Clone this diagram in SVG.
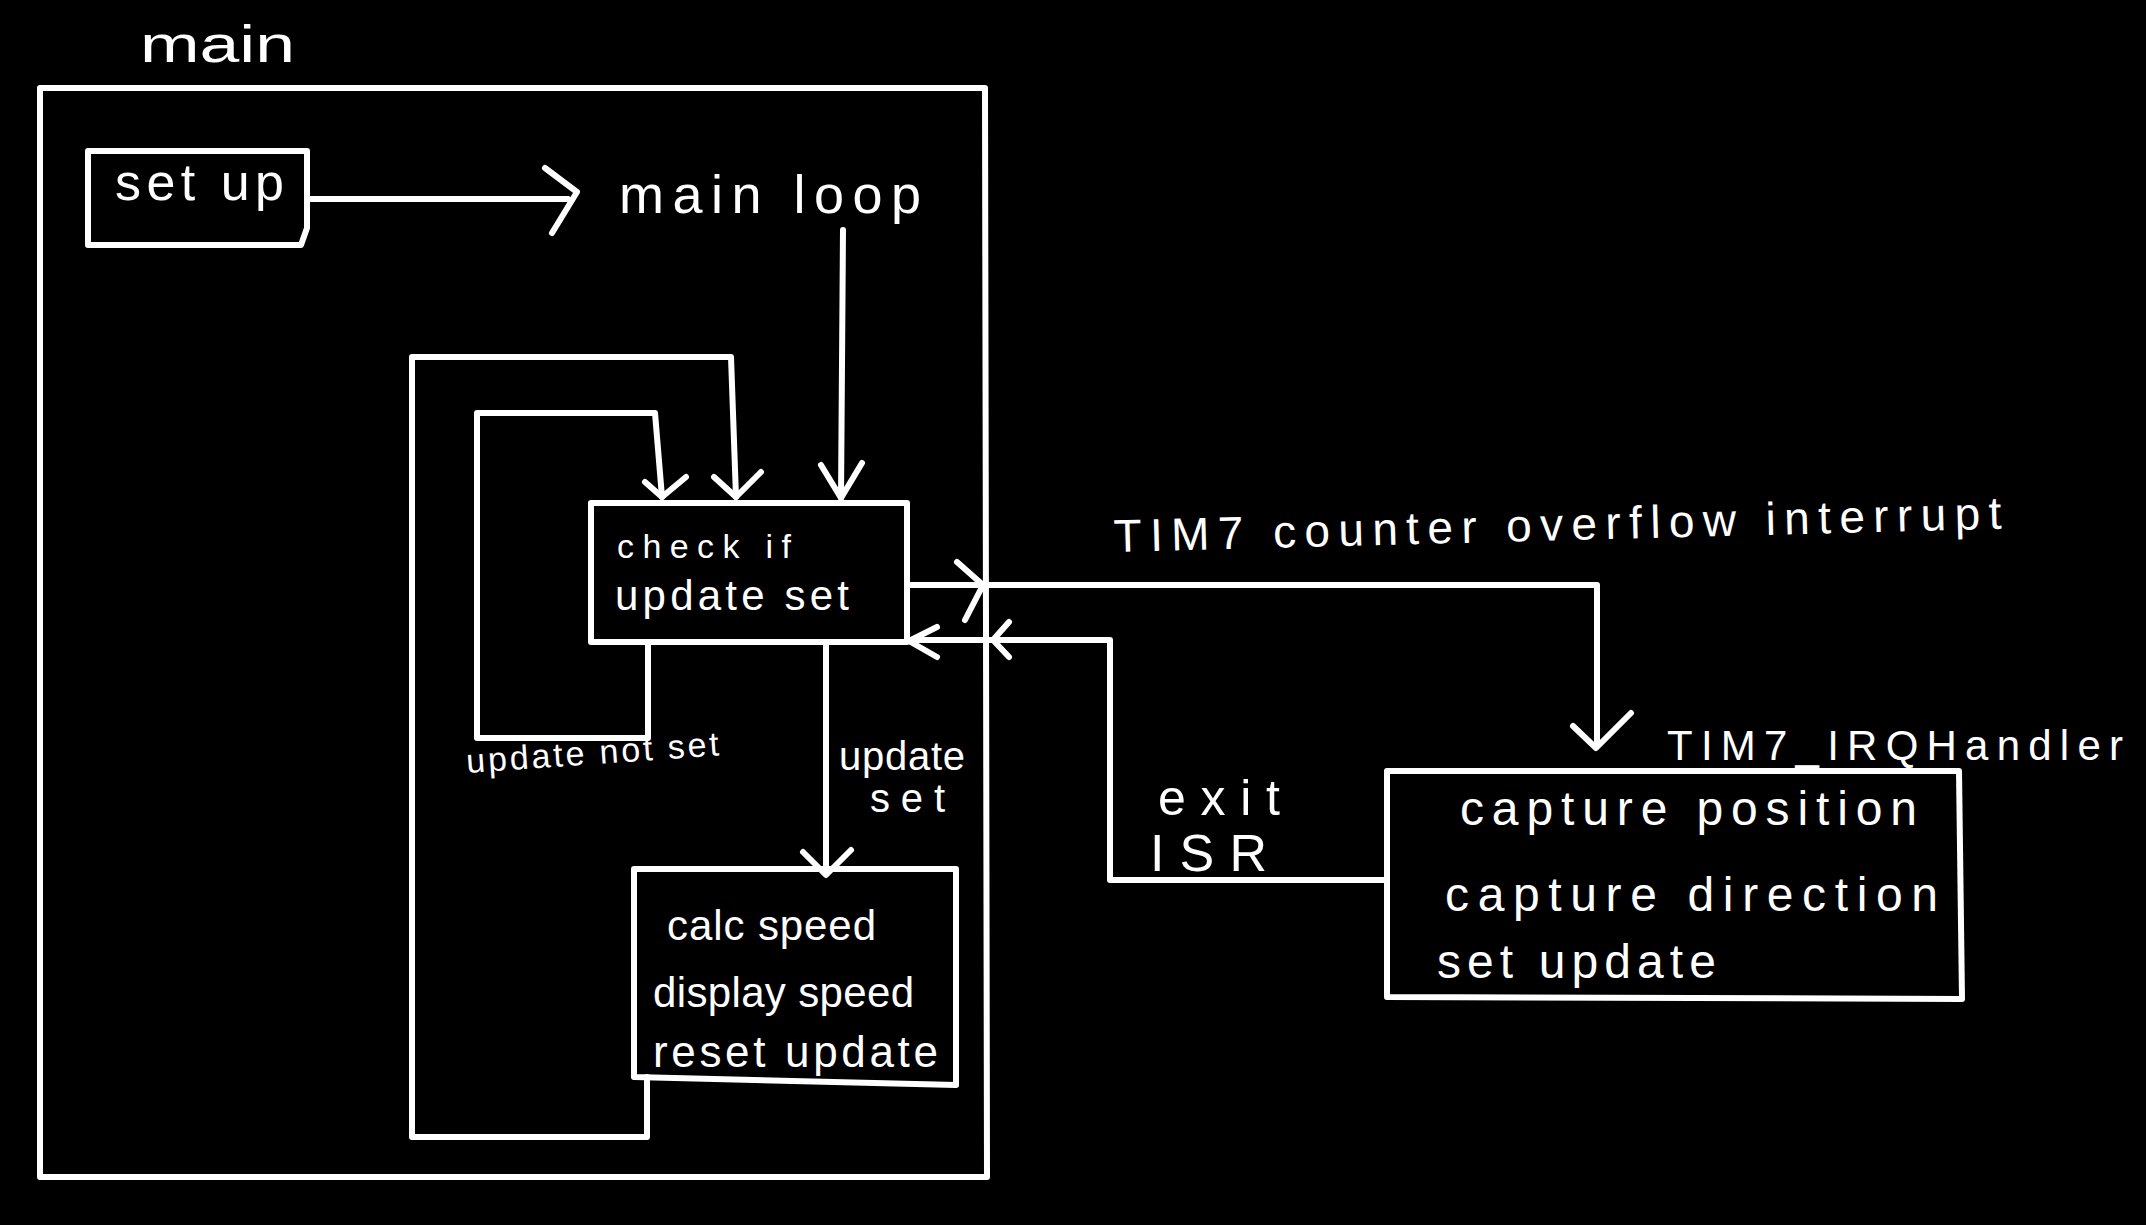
<svg xmlns="http://www.w3.org/2000/svg" width="2146" height="1225" viewBox="0 0 2146 1225">
<style>
.ln{fill:none;stroke:#fff;stroke-width:6;stroke-linejoin:round;stroke-linecap:round}
.t{fill:#fff;font-family:"Liberation Sans","DejaVu Sans",sans-serif}
</style>
<rect x="0" y="0" width="2146" height="1225" fill="#000"/>
<g id="main">
<path class="ln" d="M40 88 L985 88 L987 1177 L40 1177 Z"/>
<text class="t" x="140" y="62" font-size="52" textLength="155" lengthAdjust="spacingAndGlyphs">main</text>
<text class="t" x="619" y="213" font-size="54" textLength="302" lengthAdjust="spacing">main loop</text>
</g>
<g id="setup">
<path class="ln" d="M88 151 L307 151 L307 228 L301 245 L88 245 Z"/>
<text class="t" x="115" y="200" font-size="52" textLength="169" lengthAdjust="spacing">set up</text>
</g>
<g id="check">
<rect class="ln" x="591" y="503" width="316" height="139"/>
<text class="t" x="617" y="558" font-size="34" textLength="174" lengthAdjust="spacing">check if</text>
<text class="t" x="615" y="610" font-size="42" textLength="234" lengthAdjust="spacing">update set</text>
</g>
<g id="calc">
<path class="ln" d="M634 869 L956 869 L956 1085 L634 1077 Z"/>
<text class="t" x="667" y="940" font-size="42" textLength="209" lengthAdjust="spacing">calc speed</text>
<text class="t" x="653" y="1007" font-size="42" textLength="261" lengthAdjust="spacing">display speed</text>
<text class="t" x="653" y="1067" font-size="44" textLength="285" lengthAdjust="spacing">reset update</text>
</g>
<g id="isr">
<path class="ln" d="M1387 771 L1959 771 L1962 999 L1387 997 Z"/>
<text class="t" x="1667" y="760" font-size="42" textLength="456" lengthAdjust="spacing">TIM7_IRQHandler</text>
<text class="t" x="1460" y="825" font-size="48" textLength="457" lengthAdjust="spacing">capture position</text>
<text class="t" x="1445" y="911" font-size="48" textLength="493" lengthAdjust="spacing">capture direction</text>
<text class="t" x="1437" y="978" font-size="48" textLength="279" lengthAdjust="spacing">set update</text>
</g>
<g id="connectors">
<path class="ln" d="M307 199 L568 199"/>
<path class="ln" d="M545 168 L577 192 L552 233"/>
<path class="ln" d="M843 230 L841 498"/>
<path class="ln" d="M821 465 L841 498 L862 463"/>
<path class="ln" d="M648 642 L648 738 L477 738 L477 413 L655 413 L662 497"/>
<path class="ln" d="M645 482 L662 497 L686 477"/>
<path class="ln" d="M647 1077 L647 1137 L412 1137 L412 357 L731 357 L736 497"/>
<path class="ln" d="M714 477 L736 497 L761 472"/>
<path class="ln" d="M826 642 L826 873"/>
<path class="ln" d="M803 852 L826 875 L851 850"/>
<path class="ln" d="M907 585 L1597 585 L1597 746"/>
<path class="ln" d="M957 562 L983 585 L965 620"/>
<path class="ln" d="M1573 726 L1596 748 L1631 713"/>
<path class="ln" d="M1387 880 L1110 880 L1110 640 L907 640"/>
<path class="ln" d="M1009 622 L993 640 L1009 657"/>
<path class="ln" d="M937 627 L909 641 L937 657"/>
<text class="t" x="467" y="773" font-size="34" textLength="253" lengthAdjust="spacing" transform="rotate(-4 467 773)">update not set</text>
<text class="t" x="839" y="770" font-size="40" textLength="126" lengthAdjust="spacing">update</text>
<text class="t" x="870" y="812" font-size="40" textLength="75" lengthAdjust="spacing">set</text>
<text class="t" x="1114" y="552" font-size="46" textLength="888" lengthAdjust="spacing" transform="rotate(-1.5 1114 552)">TIM7 counter overflow interrupt</text>
<text class="t" x="1158" y="815" font-size="50" textLength="122" lengthAdjust="spacing">exit</text>
<text class="t" x="1150" y="871" font-size="52" textLength="117" lengthAdjust="spacing">ISR</text>
</g>
</svg>
